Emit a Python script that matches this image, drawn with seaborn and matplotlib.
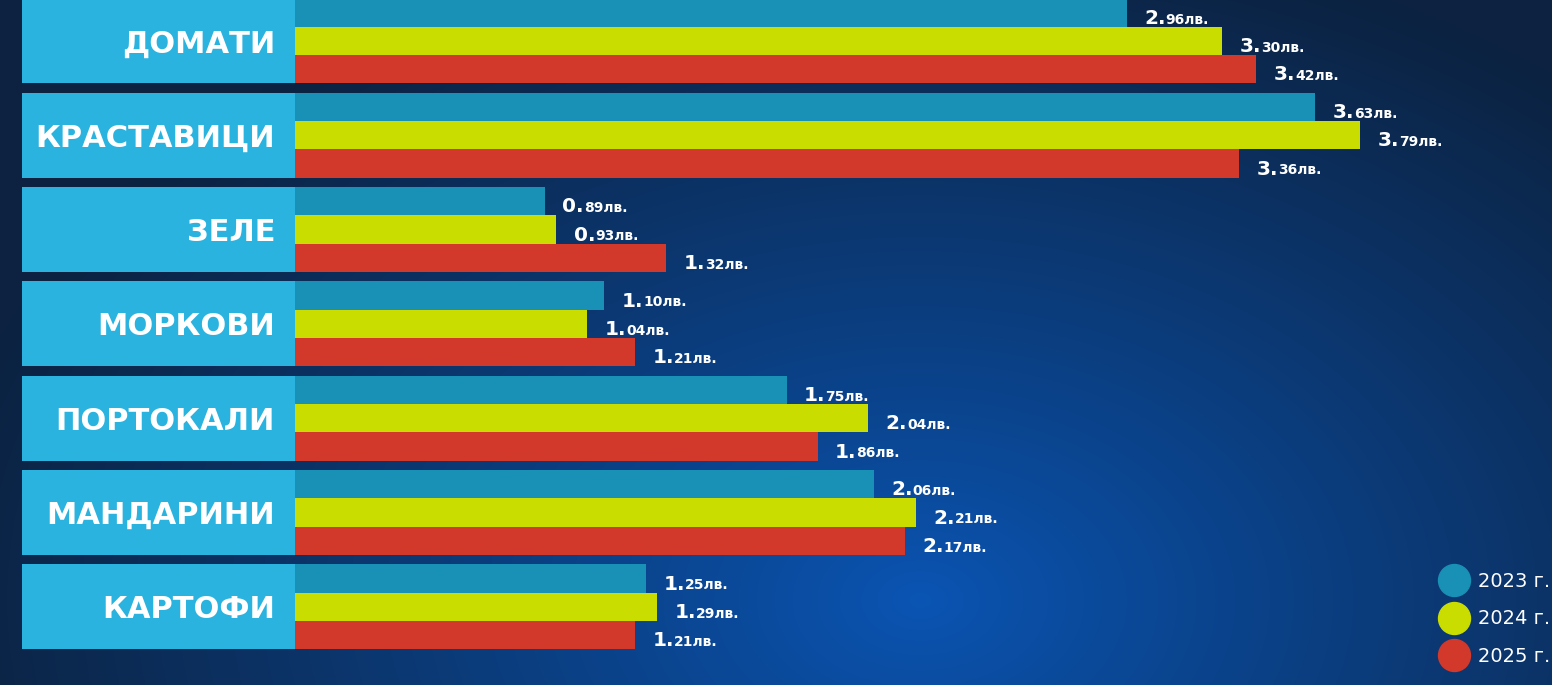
import numpy as np
import pandas as pd
import matplotlib
matplotlib.use("Agg")
import matplotlib.pyplot as plt
import seaborn as sns
from matplotlib.lines import Line2D

# ---------------- data ----------------
categories = ["ДОМАТИ", "КРАСТАВИЦИ", "ЗЕЛЕ", "МОРКОВИ", "ПОРТОКАЛИ", "МАНДАРИНИ", "КАРТОФИ"]
years = ["2023 г.", "2024 г.", "2025 г."]
prices_2023 = [2.96, 3.63, 0.89, 1.10, 1.75, 2.06, 1.25]
prices_2024 = [3.30, 3.79, 0.93, 1.04, 2.04, 2.21, 1.29]
prices_2025 = [3.42, 3.36, 1.32, 1.21, 1.86, 2.17, 1.21]
currency = "лв."

colors = ["#1990b5", "#c9de00", "#d3392a"]
box_color = "#2bb3df"

df = pd.DataFrame({
    "cat": categories * 3,
    "year": [years[0]] * 7 + [years[1]] * 7 + [years[2]] * 7,
    "value": prices_2023 + prices_2024 + prices_2025,
})

sns.set_theme(style="white")
plt.rcParams["font.family"] = ["DejaVu Sans"]

W, H = 1552, 685
fig = plt.figure(figsize=(W / 100, H / 100), dpi=100)
ax = fig.add_axes([0, 0, 1, 1])

# axis scale: value 0 at px 295, 281 px per unit; rows every 94.3 px
x0_px, ppu = 295, 281.0
xmin = -x0_px / ppu
xmax = (W - x0_px) / ppu
row0, pitch = 41.0, 94.3
ytop = -row0 / pitch
ybot = (H - row0) / pitch

# background gradient
yy, xx = np.mgrid[0:H, 0:W]
d = np.sqrt(((xx - 920) / 1000.0) ** 2 + ((yy - 600) / 680.0) ** 2)
t = np.clip(d, 0, 1) ** 0.9
c_center = np.array([0x0a, 0x55, 0xb4]) / 255
c_edge = np.array([0x0c, 0x22, 0x40]) / 255
img = c_center * (1 - t[..., None]) + c_edge * t[..., None]
ax.imshow(img, extent=[xmin, xmax, ybot, ytop], aspect="auto", zorder=-10,
          interpolation="bilinear")

# bars
sns.barplot(data=df, y="cat", x="value", hue="year", orient="h", order=categories,
            hue_order=years, palette=colors, width=0.9, dodge=True, saturation=1,
            legend=False, ax=ax, zorder=2, linewidth=0)
bar_containers = list(ax.containers)

# category boxes
box_left = (22 - x0_px) / ppu
ax.barh(y=np.arange(len(categories)), width=-box_left, left=box_left, height=0.9,
        color=box_color, zorder=1, linewidth=0)
for i, c in enumerate(categories):
    ax.text((275 - x0_px) / ppu, i, c, ha="right", va="center_baseline", color="white",
            fontsize=22, fontweight="bold", zorder=3)

# value labels
for cont in bar_containers:
    for patch in cont:
        v = patch.get_width()
        yc = patch.get_y() + patch.get_height() / 2
        whole = int(v)
        cents = int(round((v - whole) * 100))
        t1 = ax.annotate(f"{whole}.", xy=(v, yc), xytext=(12.5, -8),
                         textcoords="offset points", ha="left", va="baseline",
                         color="white", fontsize=14.5, fontweight="bold", zorder=4)
        ax.annotate(f"{cents:02d}{currency}", xy=(1, 0), xycoords=t1,
                    xytext=(0, 0.9), textcoords="offset points", ha="left", va="bottom",
                    color="white", fontsize=10, fontweight="bold", zorder=4)

ax.set_xlim(xmin, xmax)
ax.set_ylim(ybot, ytop)
ax.axis("off")

handles = [Line2D([], [], marker="o", linestyle="", markersize=23, color=c) for c in colors]
fig.legend(handles, years, loc="lower right", bbox_to_anchor=(1.0, 0.025), frameon=False,
           labelcolor="white", fontsize=14, handletextpad=0.7, labelspacing=0.95,
           handlelength=1.0, borderaxespad=0.0, borderpad=0.1)

fig.savefig("out.png", dpi=100)
